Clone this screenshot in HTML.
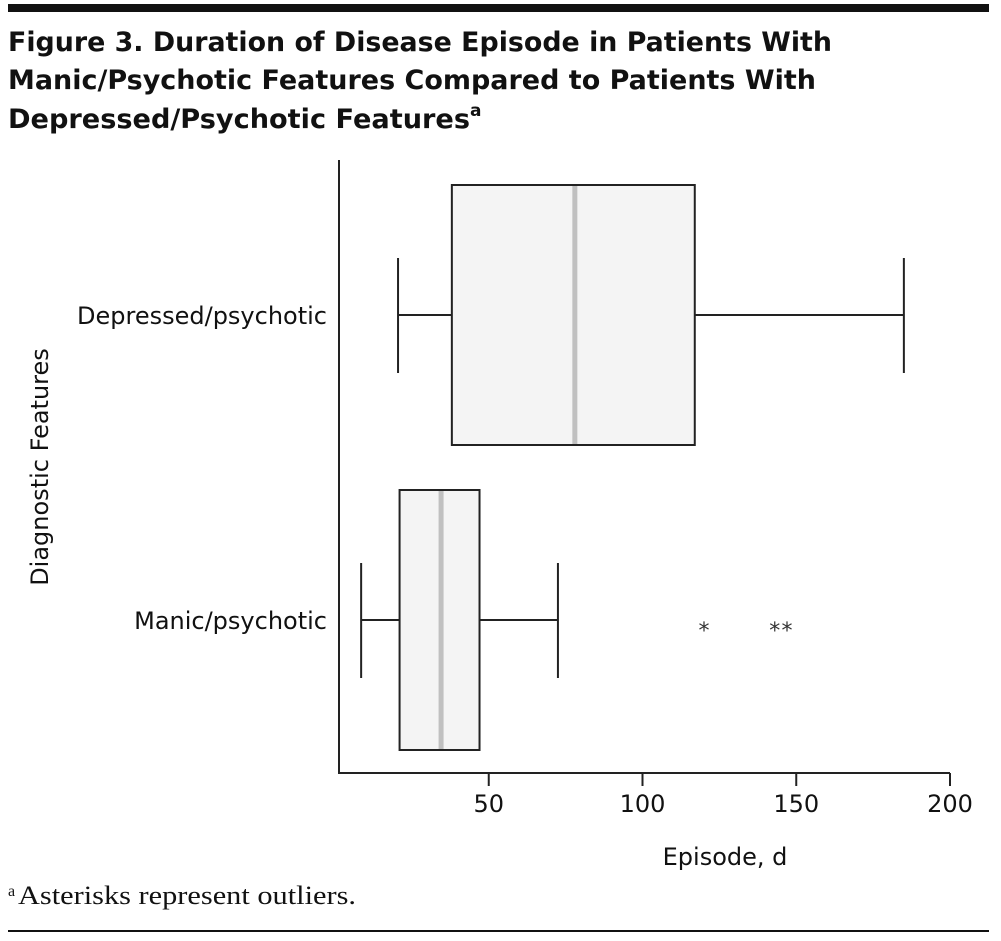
<!DOCTYPE html>
<html><head><meta charset="utf-8"><style>
body{margin:0;background:#fff;width:1001px;height:937px;overflow:hidden;font-family:"DejaVu Sans","Liberation Sans",sans-serif}
</style></head><body>
<svg width="1001" height="937" xmlns="http://www.w3.org/2000/svg">
<rect x="8" y="4" width="981" height="8" fill="#111"/>
<g font-family="DejaVu Sans, Liberation Sans, sans-serif" font-weight="bold" font-size="27" fill="#111">
<text x="8" y="51" textLength="824" lengthAdjust="spacingAndGlyphs">Figure 3. Duration of Disease Episode in Patients With</text>
<text x="8" y="89" textLength="808" lengthAdjust="spacingAndGlyphs">Manic/Psychotic Features Compared to Patients With</text>
<text x="8" y="128" textLength="462" lengthAdjust="spacingAndGlyphs">Depressed/Psychotic Features</text>
<text x="470" y="116" font-size="17">a</text>
</g>
<g id="chart"></g>
<text x="8" y="896" font-family="Liberation Serif, serif" font-size="16" fill="#111">a</text>
<text x="18" y="904" font-family="Liberation Serif, serif" font-size="26" fill="#111" textLength="338" lengthAdjust="spacingAndGlyphs">Asterisks represent outliers.</text>
<rect x="8" y="930" width="981" height="2" fill="#111"/>
</svg>
<script>
const categories=["Depressed/psychotic","Manic/psychotic"];
const mins=[20.5,8.5];
const q1s=[38,21];
const medians=[78,34.5];
const q3s=[117,47];
const maxs=[185,72.5];
const outliers=[[],[120,143,147]];
const ticks=[50,100,150,200];
const NS="http://www.w3.org/2000/svg";
const g=document.getElementById('chart');
const x=v=>335+3.075*v;
const yc=[315,620];
function mk(t,a,p){const e=document.createElementNS(NS,t);for(const k in a)e.setAttribute(k,a[k]);(p||g).appendChild(e);return e;}
let ax=mk('path',{d:'M339 160 V773 H950',fill:'none',stroke:'#222','stroke-width':2});


ticks.forEach(t=>{
 const l=mk('line',{x1:x(t),x2:x(t),y1:773,y2:786,stroke:'#222','stroke-width':2});
 
 
 const tx=mk('text',{x:x(t),y:812,'text-anchor':'middle','font-size':24,fill:'#111'});
 tx.textContent=t;
 
 
});
const xt=mk('text',{x:725,y:865,'text-anchor':'middle','font-size':24,fill:'#111'});xt.textContent='Episode, d';


const yt=mk('text',{x:0,y:0,'text-anchor':'middle','font-size':24,fill:'#111',transform:'translate(48,467) rotate(-90)'});yt.textContent='Diagnostic Features';


categories.forEach((c,i)=>{
 const y=yc[i];
 const grp=mk('g',{});
 
 
 const lb=mk('text',{x:327,y:y+9,'text-anchor':'end','font-size':24,fill:'#111'},grp);lb.textContent=c;
 
 
 mk('line',{x1:x(mins[i]),x2:x(q1s[i]),y1:y,y2:y,stroke:'#222','stroke-width':2},grp);
 mk('line',{x1:x(q3s[i]),x2:x(maxs[i]),y1:y,y2:y,stroke:'#222','stroke-width':2},grp);
 mk('line',{x1:x(mins[i]),x2:x(mins[i]),y1:y-57,y2:y+58,stroke:'#222','stroke-width':2},grp);
 mk('line',{x1:x(maxs[i]),x2:x(maxs[i]),y1:y-57,y2:y+58,stroke:'#222','stroke-width':2},grp);
 mk('rect',{x:x(q1s[i]),y:y-130,width:x(q3s[i])-x(q1s[i]),height:260,fill:'#f4f4f4',stroke:'#222','stroke-width':2},grp);
 mk('line',{x1:x(medians[i]),x2:x(medians[i]),y1:y-129,y2:y+129,stroke:'#c0c0c0','stroke-width':5},grp);
 outliers[i].forEach(o=>{
  const s=mk('text',{x:x(o),y:y+18,'text-anchor':'middle','font-size':22,fill:'#333'});s.textContent='*';
  
  
 });
});
</script>
</body></html>
